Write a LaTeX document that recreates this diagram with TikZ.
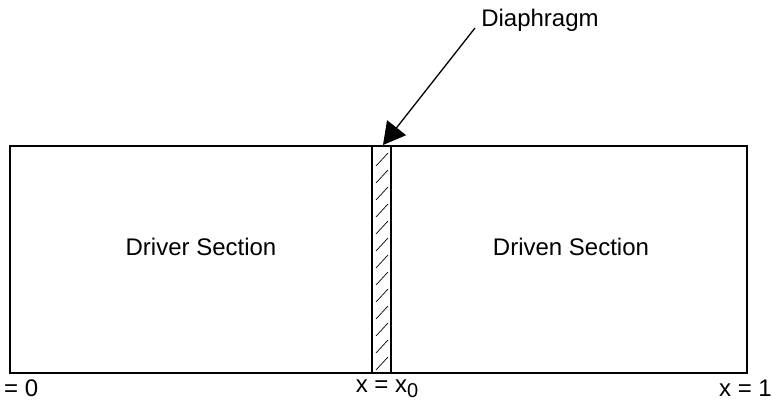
\documentclass[tikz,border=0pt]{standalone}
\usepackage{fontspec}
\setmainfont{Liberation Sans}
\usetikzlibrary{arrows.meta}
\begin{document}
\begin{tikzpicture}[x=1pt,y=-1pt,
  wall/.style={line width=1.3pt,black},
  strip/.style={line width=1.8pt,black},
  hatch/.style={line width=0.7pt,black},
  lbl/.style={font=\fontsize{24}{26}\selectfont,inner sep=0pt},
  ptr/.style={line width=1.3pt,-{Triangle[length=22pt,width=24pt]}}]
\useasboundingbox (0,0) rectangle (772,403);
% outer boundary
\draw[wall] (372,146) -- (10,146) -- (10,373) -- (372,373);
\draw[wall] (391,146) -- (747,146) -- (747,373) -- (391,373);
% diaphragm strip
\draw[strip] (372,146) rectangle (391,373);
\begin{scope}
\clip (372,146) rectangle (391,373);
\foreach \y in {166,183,...,380}
  \draw[hatch] (376,\y) -- (388,\y-13);
\end{scope}
\coordinate (tip) at (383,145);
% labels
\node[lbl] (driver) at (201,247) {Driver Section};
\node[lbl] (driven) at (571,247) {Driven Section};
\node[lbl] (dia) at (540,20) {Diaphragm};
\node[lbl,anchor=west] (x0) at (4,388) {= 0};
\node[lbl] (xx0) at (387,389) {x = x\raisebox{-5pt}{\fontsize{20}{22}\selectfont 0}};
\node[lbl,anchor=east] (x1) at (772,388) {x = 1};
\coordinate (tail) at (475,28);
\draw[ptr] (tail) -- (tip);
\end{tikzpicture}
\end{document}
